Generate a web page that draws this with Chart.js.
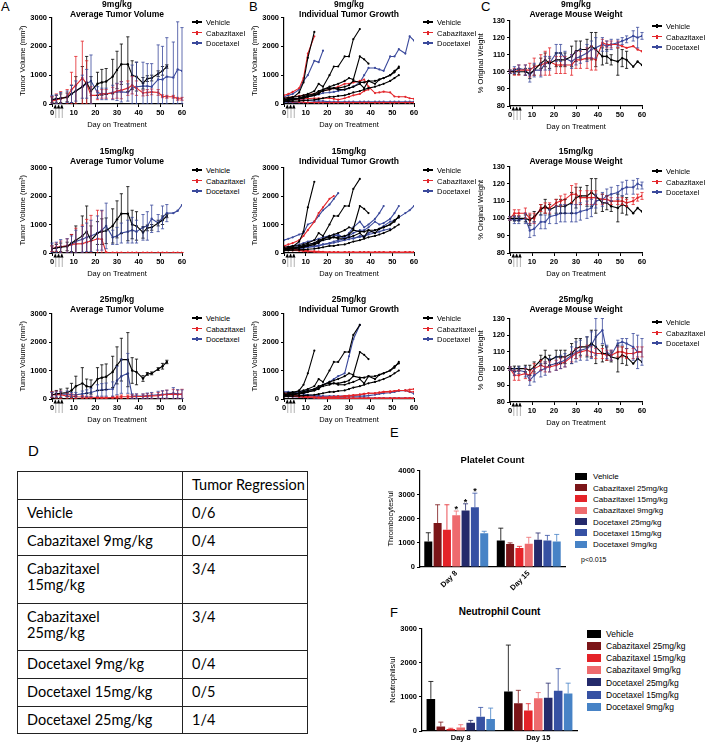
<!DOCTYPE html>
<html>
<head>
<meta charset="utf-8">
<title>Cabazitaxel vs Docetaxel</title>
<script src="https://cdn.jsdelivr.net/npm/chart.js@4.4.1/dist/chart.umd.min.js"></script>
<style>
  body { margin: 0; background: #fff; }
  #page { position: relative; width: 705px; height: 745px; overflow: hidden; font-family: "Liberation Sans", Arial, sans-serif; color: #000; }
  #page canvas { position: absolute; }
  .letter { position: absolute; font-size: 13px; line-height: 13px; }
  .title { position: absolute; width: 200px; margin-left: -100px; text-align: center; font-weight: bold; font-size: 8.5px; line-height: 9.5px; white-space: nowrap; }
  .legend { position: absolute; font-size: 7.5px; line-height: 10.5px; white-space: nowrap; }
  .legend .sw { display: inline-block; width: 10px; height: 1.2px; vertical-align: middle; margin-right: 4px; position: relative; top: -1px; }
  .legend .sw::after { content: ""; position: absolute; left: 4px; top: -1.4px; width: 2px; height: 4px; background: inherit; }
  .boxleg { position: absolute; white-space: nowrap; }
  .boxleg .bx { display: inline-block; vertical-align: middle; position: relative; top: -1px; }
  .note { position: absolute; font-size: 7px; }
  #tbl { position: absolute; left: 17px; top: 471px; width: 291px; border-collapse: collapse; font-family: Lato, "Open Sans", sans-serif; font-size: 14.5px; line-height: 16px; white-space: nowrap; }
  #tbl td { border: 1.5px solid #222; vertical-align: top; padding: 5px 0 0 9px; }
</style>
</head>
<body>
<div id="page">
  <div class="letter" style="left:1px;top:0px;">A</div>
  <div class="letter" style="left:249px;top:0px;">B</div>
  <div class="letter" style="left:481px;top:0px;">C</div>
  <div class="letter" style="left:28px;top:444px;font-size:15px;">D</div>
  <div class="letter" style="left:390px;top:426px;">E</div>
  <div class="letter" style="left:390px;top:606px;">F</div>
  <div class="note" style="left:581px;top:556px;">p&lt;0.015</div>
  <table id="tbl">
    <tr style="height:28px"><td style="width:155px"></td><td>Tumor Regression</td></tr>
    <tr style="height:28px"><td>Vehicle</td><td>0/6</td></tr>
    <tr style="height:28px"><td>Cabazitaxel 9mg/kg</td><td>0/4</td></tr>
    <tr style="height:48px"><td>Cabazitaxel<br>15mg/kg</td><td>3/4</td></tr>
    <tr style="height:47px"><td>Cabazitaxel<br>25mg/kg</td><td>3/4</td></tr>
    <tr style="height:28px"><td>Docetaxel 9mg/kg</td><td>0/4</td></tr>
    <tr style="height:28px"><td>Docetaxel 15mg/kg</td><td>0/5</td></tr>
    <tr style="height:27px"><td>Docetaxel 25mg/kg</td><td>1/4</td></tr>
  </table>
</div>
<script>
// measurement days (shared by all time-course panels)
const days = [0,2,4,7,9,11,14,16,18,21,23,25,28,30,32,35,37,39,42,44,46,49,51,53,56,58,60];
const doseDays = [1.5, 3, 4.5];

// A: average tumour volume (mean / SD)
const vehMean = [150,180,200,230,350,450,600,750,450,700,750,780,950,1180,1380,1380,1000,950,720,880,900,1050,1150,1300];
const vehSD   = [100,120,150,150,300,500,700,900,500,400,450,450,600,650,700,950,500,500,200,100,100,100,150,60];
const cab9Mean = [100,150,180,250,500,650,900,700,300,300,350,350,380,450,480,550,650,550,380,400,420,400,270,250,250,180,180];
const cab9SD   = [150,200,250,250,600,1000,1280,800,300,150,150,150,200,250,300,250,300,250,100,100,100,100,50,50,50,50,50];
const doc9Mean = [150,170,200,250,350,450,600,700,800,400,350,350,400,420,420,400,550,600,620,620,600,850,850,950,920,1200,1150];
const doc9SD   = [150,150,200,200,300,350,400,500,900,200,200,200,250,300,350,300,800,850,830,780,800,1200,1150,1350,1230,1650,1500];
const cab15Mean = [150,200,220,250,300,320,330,380,420,500,480,20,10,10,10,10,10,10,10,10,10,10,10,10,10,10,10];
const cab15SD   = [100,150,200,250,350,550,650,800,900,1000,1000,10,5,5,5,5,5,5,5,5,5,5,5,5,5,5,5];
const doc15Mean = [150,180,220,250,300,400,480,550,600,700,800,950,550,600,700,750,800,750,900,950,1200,1050,1250,1400,1400,1480,1680];
const doc15SD   = [200,200,250,250,300,400,450,500,550,600,700,800,250,300,350,400,450,400,450,500,480,300,400,300,0,0,0];
const veh25Mean = [150,180,200,230,300,450,550,450,420,700,750,780,950,1180,1380,1380,1000,950,720,880,900,1050,1150,1300];
const veh25SD   = [100,120,150,150,250,350,550,250,250,400,450,450,550,650,750,950,450,450,100,50,50,50,100,60];
const cab25Mean = [150,150,150,100,100,80,70,60,60,50,40,40,50,60,80,80,80,90,90,100,110,120,150,160,170,160,170];
const cab25SD   = [100,120,130,100,80,60,50,40,40,30,30,30,40,50,60,60,70,80,80,90,100,110,130,150,170,150,170];
const doc25Mean = [150,160,170,180,150,150,180,200,230,300,320,330,350,650,800,900,100,100,100,120,130,150,160,170,200,180,170];
const doc25SD   = [80,90,100,100,80,80,100,120,150,200,220,230,250,500,600,700,80,80,80,90,100,120,130,140,200,150,150];

// B: individual tumour growth, one array per mouse (a shorter array = mouse removed)
const vehicleMice = [
  [150,180,220,400,750,1600,2500],
  [200,220,240,260,300,350,450,700,600,1000,1300,1300,1650,1650,2250,2600],
  [150,160,180,200,250,300,350,450,500,600,650,700,800,900,850,1650,1550,1400],
  [100,120,150,180,200,250,300,400,450,500,550,550,600,650,800,750,750,800,800,850,900,1000,1100,1300],
  [120,140,160,200,230,260,300,350,500,550,550,500,500,550,600,700,550,800,700,850,900,1000,1150,1250],
  [80,90,100,110,120,130,150,170,200,250,250,280,300,350,400,450,500,550,600,650,700,800,900,1000]
];
const vehicle25Mice = [
  [150,180,220,300,500,900,1700],
  [200,220,240,260,300,350,450,700,600,1000,1300,1300,1650,1650,2250,2600],
  [150,160,180,200,250,300,350,450,500,600,650,700,800,900,850,1650,1550,1400],
  [100,120,150,180,200,250,300,400,450,500,550,550,600,650,800,750,750,800,800,850,900,1000,1100,1300],
  [120,140,160,200,230,260,300,350,500,550,550,500,500,550,600,700,550,800,700,850,900,1000,1150,1250],
  [80,90,100,110,120,130,150,170,200,250,250,280,300,350,400,450,500,550,600,650,700,800,900,1000]
];
const cab9Mice = [
  [300,350,420,550,900,1750,2350],
  [200,220,250,280,300,330,350,400,450,500,550,600,700,700,750,800,850,600,380,400,430,400,260,250,250,200,180],
  [150,150,160,170,180,190,200,200,200,200,180,150,200,250,300,350,450,500],
  [100,90,80,70,60,50,50,50,50,50,50,50,50,50,50,50,50,50,50,50,50,50,50,50,50,50,50]
];
const doc9Mice = [
  [250,300,350,500,800,1000,1500,1450,1850],
  [150,160,180,200,230,260,300,330,380,400,420,450,500,550,600,750,1000,1250,1250,1200,1150,1650,1650,1900,1750,2350,2200],
  [60,60,55,50,50,50,50,50,50,50,50,50,50,50,50,50,50,50,50,50,50,50,50,50,50,50,50],
  [200,200,180,150,150,120,100,100,100,80,80,80,80,80,80,80,80,80,80,80,80,80,80,80,80,80,80]
];
const cab15Mice = [
  [250,300,350,450,600,800,1100,1400,1600,1900,2000],
  [150,140,120,100,80,60,50,40,30,20,20,20,20,20,20,20,20,20,20,20,20,20,20,20,20,20,20],
  [100,100,90,80,60,50,40,30,20,20,20,20,20,20,20,20,20,20,20,20,20,20,20,20,20,20,20],
  [200,180,150,120,100,80,60,50,40,30,30,30,30,30,30,30,30,30,30,30,30,30,30,30,30,30,30]
];
const doc15Mice = [
  [450,500,550,650,700,1000,1100,1300,1500,1700,1900,2100],
  [200,220,250,300,350,400,450,500,550,600,650,600,550,700,900,1100,900,1000,1200,1400,1650],
  [150,170,200,230,260,300,350,400,450,500,600,650,500,600,700,800,800,900,1100,1000,1050,1200,1400,1650],
  [100,120,140,160,180,200,220,250,300,350,400,450,500,550,500,600,550,700,800,850,950,1100,1150,1250,1400,1500,1650],
  [120,130,150,170,190,210,240,270,300,330,360,400,450,480,520,560,600,650,700,750,800,850]
];
const cab25Mice = [
  [100,100,90,80,70,60,50,50,60,70,80,90,100,110,120,150,180,200,200,230,250,250,280,300,300,330,350],
  [150,140,120,100,80,60,50,40,30,20,20,20,20,20,20,20,20,20,20,20,20,20,20,20,20,20,20],
  [200,180,150,120,100,80,60,50,50,60,70,80,100,120,140,160,180,200,200,220,250,270,280,300,300,260,250],
  [120,110,100,90,80,70,60,50,40,30,30,30,30,30,30,30,30,30,30,30,30,30,30,30,30,30,30]
];
const doc25Mice = [
  [200,200,220,250,280,300,350,400,500,600,700,800,900,1500,2100,2600],
  [250,250,230,200,180,150,120,100,80,60,50,40,30,20,20,20,20,20,20,20,20,20,20,20,20,20,20],
  [150,150,140,130,120,110,100,100,100,100,100,100,100,100,100,100,100,120,150,180,200,220,250,280,300,250,180],
  [100,90,80,70,60,50,40,30,30,30,30,30,30,30,30,30,30,30,30,30,30,30,30,30,30,30,30]
];

// C: average mouse weight (% of original)
const vehW   = [100,100,100,100,99,101,105,107,105,107,107,107,109,112,113,113,115,113,109,109,107,106,108,107,103,106,104];
const vehWsd = [1,1.5,1.5,2,3,3,3,4,3,4,4,4,6,6,5,6,8,10,5,4,3,8,5,5,0,0,0];
const cab9W   = [100,100,101,101,101,103,104,105,106,104,104,104,104,107,107,108,108,107,117,116,116,116,115,114,115,113,112];
const cab9Wsd = [1,2,3,3,4,5,6,7,8,5,5,5,6,5,5,6,7,6,2,2,2,2,0,0,0,0,0];
const doc9W   = [100,101,102,101,98,101,101,105,105,111,111,108,106,108,109,111,113,114,116,115,116,117,118,119,121,120,121];
const doc9Wsd = [1,2,2,3,4,4,4,4,4,5,5,4,4,4,4,5,5,6,4,3,3,2,2,2,3,6,2];
const cab15W   = [100,103,103,103,100,100,106,106,106,109,110,111,114,114,112,112,112,112,111,111,110,110,110,109,110,112,113];
const cab15Wsd = [1,2,2,3,3,3,2,3,3,2,3,3,5,6,4,4,4,4,3,2,2,2,2,2,2,2,2];
const doc15W   = [100,99,99,100,93,94,98,98,101,102,103,103,103,103,104,105,106,110,111,113,114,115,117,118,118,120,119];
const doc15Wsd = [1,2,2,3,4,4,4,4,4,5,5,5,5,5,5,5,5,4,4,4,4,4,4,4,4,3,2];
const cab25W   = [100,96,96,97,96,100,102,101,101,102,103,104,107,109,110,111,110,109,109,108,108,110,110,109,109,110,110];
const cab25Wsd = [1,3,3,3,3,3,3,3,3,3,3,3,3,3,3,3,3,3,3,3,3,3,3,3,3,3,3];
const doc25W   = [100,98,99,98,93,96,99,100,102,103,104,105,108,110,111,112,114,119,123,110,108,115,116,115,113,110,110];
const doc25Wsd = [1,2,2,3,3,4,4,4,4,4,4,4,5,6,6,7,8,11,8,4,3,2,2,3,8,10,8];

// E/F: blood counts
const bloodDays = ["Day 8", "Day 15"];
const bloodGroups = ["Vehicle", "Cabazitaxel 25mg/kg", "Cabazitaxel 15mg/kg", "Cabazitaxel 9mg/kg",
                     "Docetaxel 25mg/kg", "Docetaxel 15mg/kg", "Docetaxel 9mg/kg"];
const plateletDay8  = [1060,1820,1545,2140,2345,2480,1400];
const plateletErr8  = [360,760,1035,180,275,580,80];
const plateletDay15 = [1100,950,790,965,1130,1100,1060];
const plateletErr15 = [510,50,65,265,280,210,290];
const plateletStars8 = [false,false,false,true,true,true,false];
const neutroDay8  = [940,135,60,100,240,420,350];
const neutroErr8  = [510,125,20,85,70,270,320];
const neutroDay15 = [1155,815,600,960,970,1175,1100];
const neutroErr15 = [1360,375,200,165,430,650,300];

const blk = "#000000", red = "#e3262b", blue = "#3b4a9c";
const groupColors = ["#000000","#7b1518","#e52329","#ee6b6e","#242a6b","#3651a3","#4783c6"];

Chart.defaults.font.family = '"Liberation Sans", Arial, sans-serif';
Chart.defaults.color = "#000";

const page = document.getElementById("page");

function addCanvas(left, top, width, height) {
  const c = document.createElement("canvas");
  c.width = width; c.height = height;
  c.style.left = left + "px"; c.style.top = top + "px";
  c.style.width = width + "px"; c.style.height = height + "px";
  page.appendChild(c);
  return c;
}

function addTitle(cx, top, lines, size) {
  const d = document.createElement("div");
  d.className = "title";
  d.style.left = cx + "px"; d.style.top = top + "px";
  if (size) d.style.fontSize = size + "px";
  d.innerHTML = lines.join("<br>");
  page.appendChild(d);
}

function lineLegend(x, y) {
  const d = document.createElement("div");
  d.className = "legend";
  d.style.left = x + "px"; d.style.top = (y - 5) + "px";
  [["Vehicle", blk], ["Cabazitaxel", red], ["Docetaxel", blue]].forEach(([name, col]) => {
    const row = document.createElement("div");
    row.innerHTML = `<span class="sw" style="background:${col}"></span>${name}`;
    d.appendChild(row);
  });
  page.appendChild(d);
}

function boxLegend(x, y, step, size, bw, bh, gap) {
  const d = document.createElement("div");
  d.className = "boxleg";
  d.style.left = x + "px"; d.style.top = (y - step / 2) + "px";
  d.style.fontSize = size + "px"; d.style.lineHeight = step + "px";
  bloodGroups.forEach((name, i) => {
    const row = document.createElement("div");
    row.innerHTML = `<span class="bx" style="background:${groupColors[i]};width:${bw}px;height:${bh}px;margin-right:${gap}px"></span>${name}`;
    d.appendChild(row);
  });
  page.appendChild(d);
}

const errorBars = {
  id: "errorBars",
  afterDatasetsDraw(chart) {
    const { ctx, chartArea: area, scales: { y } } = chart;
    ctx.save();
    ctx.beginPath();
    ctx.rect(area.left - 6, area.top - 12, area.right - area.left + 12, area.bottom - area.top + 12);
    ctx.clip();
    chart.data.datasets.forEach((ds, i) => {
      if (!ds.errors) return;
      const meta = chart.getDatasetMeta(i);
      meta.data.forEach((el, j) => {
        const raw = ds.data[j];
        const v = raw !== null && typeof raw === "object" ? raw.y : raw;
        const e = ds.errors[j];
        if (v == null) return;
        const top = y.getPixelForValue(Math.min(v + (e || 0), y.max));
        if (e) {
          const bot = ds.errorUpOnly ? el.y : y.getPixelForValue(Math.max(v - e, y.min));
          const cap = ds.capWidth || 1.6;
          ctx.strokeStyle = ds.errColor || ds.borderColor;
          ctx.lineWidth = 0.8;
          ctx.beginPath();
          ctx.moveTo(el.x, top); ctx.lineTo(el.x, bot);
          ctx.moveTo(el.x - cap, top); ctx.lineTo(el.x + cap, top);
          if (!ds.errorUpOnly) { ctx.moveTo(el.x - cap, bot); ctx.lineTo(el.x + cap, bot); }
          ctx.stroke();
        }
        if (ds.stars && ds.stars[j]) {
          ctx.fillStyle = "#000";
          ctx.font = 'bold 9px "Liberation Sans"';
          ctx.textAlign = "center";
          ctx.fillText("*", el.x, top + 1);
        }
      });
    });
    ctx.restore();
  }
};

const doseMarks = {
  id: "doseMarks",
  afterDraw(chart) {
    const { ctx, chartArea: area, scales: { x } } = chart;
    ctx.save();
    doseDays.forEach(d => {
      const px = x.getPixelForValue(d);
      ctx.strokeStyle = "#a0a0a0"; ctx.lineWidth = 0.8;
      ctx.beginPath(); ctx.moveTo(px + 0.5, area.bottom + 1); ctx.lineTo(px + 0.5, area.bottom + 14); ctx.stroke();
      ctx.fillStyle = "#000";
      ctx.beginPath();
      ctx.moveTo(px, area.bottom + 0.5);
      ctx.lineTo(px - 1.8, area.bottom + 4.5);
      ctx.lineTo(px + 1.8, area.bottom + 4.5);
      ctx.fill();
    });
    ctx.restore();
  }
};

function pts(vals) {
  return vals.map((v, i) => ({ x: days[i], y: v }));
}

function meanSet(vals, errs, color) {
  return { data: pts(vals), errors: errs, borderColor: color, backgroundColor: color,
           borderWidth: 1.1, pointRadius: 1.2, pointBorderWidth: 0, capWidth: 1.6 };
}

function miceSets(mice, color) {
  return mice.map(m => ({ data: pts(m), borderColor: color, backgroundColor: color,
                          borderWidth: 1.1, pointRadius: 1.1, pointBorderWidth: 0 }));
}

const tickFont = { size: 7.5, weight: "bold" };
const plainTick = v => String(v);

function buildLineChart(box, yMin, yMax, yStep, yTitle, datasets) {
  const yW = 34, padT = 6, padR = 6, xH = 25;
  const cv = addCanvas(box.l - yW, box.t - padT, box.r - box.l + yW + padR, box.b - box.t + padT + xH);
  return new Chart(cv, {
    type: "line",
    data: { datasets },
    options: {
      responsive: false, animation: false,
      layout: { padding: { top: padT, right: padR, left: 0, bottom: 0 } },
      plugins: { legend: { display: false }, tooltip: { enabled: false } },
      elements: { line: { tension: 0 } },
      scales: {
        x: {
          type: "linear", min: 0, max: 60,
          ticks: { stepSize: 10, font: tickFont, padding: 1, maxRotation: 0, callback: plainTick },
          grid: { drawOnChartArea: false, tickLength: 3, color: "#000" },
          border: { color: "#000", width: 1.2 },
          title: { display: true, text: "Day on Treatment", font: { size: 7.5 }, padding: 0 },
          afterFit(s) { s.height = xH; }
        },
        y: {
          min: yMin, max: yMax,
          ticks: { stepSize: yStep, font: tickFont, padding: 2, callback: plainTick },
          grid: { drawOnChartArea: false, tickLength: 3, color: "#000" },
          border: { color: "#000", width: 1.2 },
          title: { display: true, text: yTitle, font: { size: 7.5 }, padding: 0 },
          afterFit(s) { s.width = yW; }
        }
      }
    },
    plugins: [errorBars, doseMarks]
  });
}

function buildBarChart(box, yMax, yTitle, d8, e8, d15, e15, stars, rotate, xH, title, titleY, titleSize) {
  const yW = 34, padT = 6, padR = 4;
  const cv = addCanvas(box.l - yW, box.t - padT, box.r - box.l + yW + padR, box.b - box.t + padT + xH);
  const datasets = bloodGroups.map((g, i) => ({
    label: g,
    data: [d8[i], d15[i]],
    errors: [e8[i], e15[i]],
    stars: stars ? [stars[i], false] : null,
    backgroundColor: groupColors[i],
    borderColor: groupColors[i],
    borderWidth: 0,
    errorUpOnly: true,
    capWidth: 2.5
  }));
  addTitle((box.l + box.r) / 2, titleY, [title], titleSize);
  return new Chart(cv, {
    type: "bar",
    data: { labels: bloodDays, datasets },
    options: {
      responsive: false, animation: false,
      layout: { padding: { top: padT, right: padR, left: 0, bottom: 0 } },
      plugins: { legend: { display: false }, tooltip: { enabled: false } },
      datasets: { bar: { categoryPercentage: 0.9, barPercentage: 0.86 } },
      scales: {
        x: {
          ticks: { font: tickFont, padding: 2, minRotation: rotate, maxRotation: rotate },
          grid: { drawOnChartArea: false, drawTicks: false },
          border: { color: "#000", width: 1.2 },
          afterFit(s) { s.height = xH; }
        },
        y: {
          min: 0, max: yMax,
          ticks: { stepSize: 1000, font: tickFont, padding: 2, callback: plainTick },
          grid: { drawOnChartArea: false, tickLength: 3, color: "#000" },
          border: { color: "#000", width: 1.2 },
          title: { display: true, text: yTitle, font: { size: 7.5 }, padding: 0 },
          afterFit(s) { s.width = yW; }
        }
      }
    },
    plugins: [errorBars]
  });
}

// panel geometry: plot rectangles
const colA = { l: 52, r: 182 }, colB = { l: 284, r: 414 }, colC = { l: 510, r: 642 };
const tumorRows = [{ t: 17, b: 104 }, { t: 167, b: 253 }, { t: 313, b: 399 }];
const weightRows = [{ t: 20, b: 106 }, { t: 166, b: 253 }, { t: 318, b: 402 }];
const titleTops = [0, 147, 295];
const legendYs = [[23, 23, 27], [171, 171, 172], [319, 319, 323]];
const doses = ["9mg/kg", "15mg/kg", "25mg/kg"];

const avgSets = [
  [meanSet(vehMean, vehSD, blk), meanSet(cab9Mean, cab9SD, red), meanSet(doc9Mean, doc9SD, blue)],
  [meanSet(vehMean, vehSD, blk), meanSet(cab15Mean, cab15SD, red), meanSet(doc15Mean, doc15SD, blue)],
  [meanSet(veh25Mean, veh25SD, blk), meanSet(cab25Mean, cab25SD, red), meanSet(doc25Mean, doc25SD, blue)]
];
const indSets = [
  [...miceSets(vehicleMice, blk), ...miceSets(cab9Mice, red), ...miceSets(doc9Mice, blue)],
  [...miceSets(vehicleMice, blk), ...miceSets(cab15Mice, red), ...miceSets(doc15Mice, blue)],
  [...miceSets(vehicle25Mice, blk), ...miceSets(cab25Mice, red), ...miceSets(doc25Mice, blue)]
];
const wtSets = [
  [meanSet(vehW, vehWsd, blk), meanSet(cab9W, cab9Wsd, red), meanSet(doc9W, doc9Wsd, blue)],
  [meanSet(vehW, vehWsd, blk), meanSet(cab15W, cab15Wsd, red), meanSet(doc15W, doc15Wsd, blue)],
  [meanSet(vehW, vehWsd, blk), meanSet(cab25W, cab25Wsd, red), meanSet(doc25W, doc25Wsd, blue)]
];

const volTitle = "Tumor Volume (mm\u00B3)";
for (let r = 0; r < 3; r++) {
  buildLineChart({ ...colA, ...tumorRows[r] }, 0, 3000, 1000, volTitle, avgSets[r]);
  buildLineChart({ ...colB, ...tumorRows[r] }, 0, 3000, 1000, volTitle, indSets[r]);
  buildLineChart({ ...colC, ...weightRows[r] }, 80, 130, 10, "% Original Weight", wtSets[r]);
  addTitle(117, titleTops[r], [doses[r], "Average Tumor Volume"]);
  addTitle(349, titleTops[r], [doses[r], "Individual Tumor Growth"]);
  addTitle(576, titleTops[r], [doses[r], "Average Mouse Weight"]);
  lineLegend(192, legendYs[r][0]);
  lineLegend(423, legendYs[r][1]);
  lineLegend(652, legendYs[r][2]);
}

buildBarChart({ l: 420, r: 565, t: 470, b: 567 }, 4000, "Thrombocytes/ul",
  plateletDay8, plateletErr8, plateletDay15, plateletErr15, plateletStars8, 45, 24,
  "Platelet Count", 455, 9.5);
boxLegend(575, 477, 11.33, 8, 12, 7, 6);

buildBarChart({ l: 422, r: 577, t: 628, b: 731 }, 3000, "Neutrophils/ul",
  neutroDay8, neutroErr8, neutroDay15, neutroErr15, null, 0, 14,
  "Neutrophil Count", 607, 10);
boxLegend(587, 634, 12.17, 8.5, 14, 8, 5);
</script>
</body>
</html>
